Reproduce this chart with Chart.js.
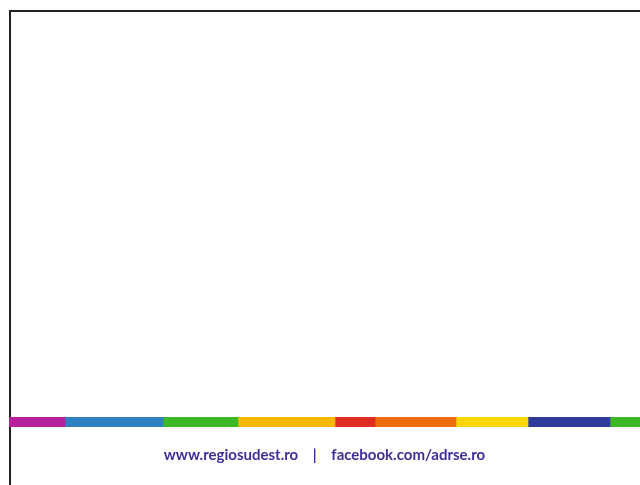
<!DOCTYPE html>
<html>
<head>
<meta charset="utf-8">
<script src="https://cdn.jsdelivr.net/npm/chart.js@4/dist/chart.umd.min.js"></script>
<style>
    html, body { margin: 0; padding: 0; background: #fff; width: 640px; height: 485px; overflow: hidden; }
    .frame {
        position: absolute; left: 9px; top: 10px; width: 700px; height: 500px;
        border-top: 2px solid #222; border-left: 2px solid #222;
    }
    .strip { position: absolute; left: 9px; top: 417px; width: 631px; height: 50px; }
</style>
</head>
<body>
<div class="frame"></div>
<div class="strip"><canvas id="stripChart"></canvas></div>
<script>
// segmente din banda colorata (latime relativa)
const segmentNames = ['s1', 's2', 's3', 's4', 's5', 's6', 's7', 's8', 's9'];
const segmentWidths = [56, 98, 75, 97, 40, 81, 72, 82, 30];
const segmentColors = ['#b5219b', '#2f80c0', '#3cb824', '#fbb800', '#df2c20', '#ee6b0c', '#fdd600', '#2f3a9a', '#3cb824'];
const roundedSegments = ['s2', 's5', 's8'];
const footerText = 'www.regiosudest.ro    |    facebook.com/adrse.ro';

const totalWidth = segmentWidths.reduce((a, b) => a + b, 0);

const datasets = segmentNames.map((name, i) => ({
    label: name,
    data: [segmentWidths[i]],
    backgroundColor: segmentColors[i],
    borderWidth: 0,
    borderSkipped: false,
    borderRadius: roundedSegments.includes(name) ? 4 : 0,
    barPercentage: 1,
    categoryPercentage: 1
}));

const ctx = document.getElementById('stripChart').getContext('2d');
new Chart(ctx, {
    type: 'bar',
    data: { labels: [''], datasets: datasets },
    options: {
        indexAxis: 'y',
        responsive: true,
        maintainAspectRatio: false,
        animation: false,
        layout: { padding: 0 },
        scales: {
            x: { stacked: true, display: false, min: 0, max: totalWidth },
            y: { stacked: true, display: false }
        },
        plugins: {
            legend: { display: false },
            tooltip: { enabled: false },
            title: {
                display: true,
                position: 'bottom',
                text: footerText,
                color: '#3f2e9a',
                font: { family: 'Lato', size: 15, weight: 'bold' },
                padding: { top: 19, bottom: 3 }
            }
        }
    }
});
</script>
</body>
</html>
